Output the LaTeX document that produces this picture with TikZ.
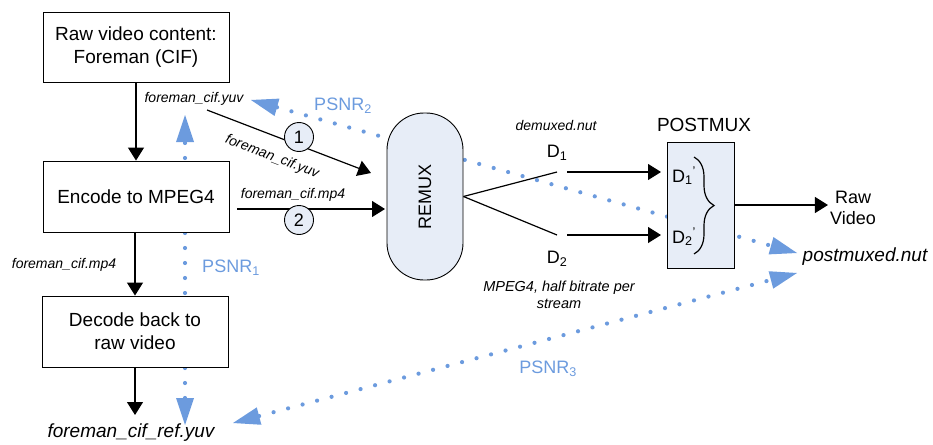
\documentclass[tikz,border=0pt]{standalone}
\usepackage{fontspec}
\setmainfont{Liberation Sans}
\usetikzlibrary{arrows.meta,decorations.pathreplacing,calc}
\definecolor{psnr}{RGB}{108,155,222}
\definecolor{lightfill}{RGB}{231,237,247}
\begin{document}
\begin{tikzpicture}[x=1pt,y=-1pt,
 box/.style={draw, fill=white, line width=0.9pt, align=center, inner sep=0pt, font=\fontsize{19}{23}\selectfont},
 lab/.style={font=\fontsize{14}{17}\selectfont\itshape, inner sep=0pt, align=center},
 arr/.style={line width=1.2pt, -{Triangle[length=13pt,width=16pt]}},
 ln/.style={line width=1.2pt},
 dots/.style={draw=psnr, line width=4.2pt, line cap=round, dash pattern=on 0pt off 15pt,
   {Triangle[length=27pt,width=18pt,line width=0pt]}-{Triangle[length=27pt,width=18pt,line width=0pt]}},
 psnrlab/.style={text=psnr, font=\fontsize{18}{21}\selectfont, inner sep=0pt},
 circ/.style={circle, draw, fill=lightfill, line width=0.9pt, minimum size=29pt, inner sep=0pt, font=\fontsize{18}{20}\selectfont},
 txt/.style={font=\fontsize{18}{21}\selectfont, inner sep=0pt, align=center}
]
\useasboundingbox (0,0) rectangle (933,444);

% PSNR dotted connectors (behind boxes)
\coordinate (p1a) at (185,425);
\coordinate (p1b) at (185,115);
\coordinate (p2a) at (251,100);
\coordinate (p2b) at (797,253);
\coordinate (p3a) at (233,423);
\coordinate (p3b) at (797,273);
\draw[dots] (p1a) -- (p1b);
\draw[dots] (p2a) -- (p2b);
\draw[dots] (p3a) -- (p3b);

% boxes
\node[box, minimum width=186pt, minimum height=70pt] (raw) at (136,47) {Raw video content:\\Foreman (CIF)};
\node[box, minimum width=186pt, minimum height=71pt] (enc) at (136,196.5) {Encode to MPEG4};
\node[box, minimum width=186pt, minimum height=71pt] (dec) at (135,331.5) {Decode back to\\raw video};

\node[draw, fill=lightfill, line width=0.9pt, rounded corners=37pt, minimum width=76pt, minimum height=167pt, inner sep=0pt,
  font=\fontsize{18}{21}\selectfont] (remux) at (425,196.5) {\rotatebox{90}{REMUX}};

\node[draw, fill=lightfill, line width=0.9pt, minimum width=67pt, minimum height=126pt, inner sep=0pt] (post) at (700.5,205) {};
\node[font=\fontsize{19}{22}\selectfont, inner sep=0pt] (postlab) at (704,125) {POSTMUX};

% labels
\node[lab] (yuvlab) at (194,99) {foreman\_cif.yuv};
\node[lab] (mp4lab) at (64,265) {foreman\_cif.mp4};
\node[lab, rotate=-21] (yuvlab2) at (272,157) {foreman\_cif.yuv};
\node[lab] (mp4lab2) at (293,195) {foreman\_cif.mp4};
\node[font=\fontsize{19}{22}\selectfont\itshape, inner sep=0pt] (refyuv) at (131,433) {foreman\_cif\_ref.yuv};
\node[lab] (demux) at (556,125) {demuxed.nut};
\node[txt] (d1) at (557,153) {D\textsubscript{1}};
\node[txt] (d2) at (557,259) {D\textsubscript{2}};
\node[lab, font=\fontsize{14.5}{17}\selectfont\itshape] (mpeglab) at (559,295) {MPEG4, half bitrate per\\stream};
\node[txt] (d1p) at (684,176) {D\textsubscript{1}\textsuperscript{'}};
\node[txt] (d2p) at (684,237) {D\textsubscript{2}\textsuperscript{'}};
\node[txt, inner sep=2pt] (rawv) at (853,208) {Raw\\Video};
\node[font=\fontsize{19}{22}\selectfont\itshape, inner sep=0pt] (pmux) at (865,257) {postmuxed.nut};

\node[psnrlab] (ps1) at (231,268) {PSNR\textsubscript{1}};
\node[psnrlab] (ps2) at (343,106) {PSNR\textsubscript{2}};
\node[psnrlab] (ps3) at (548,369) {PSNR\textsubscript{3}};

% main connectors
\draw[arr] (raw) -- (enc);
\draw[arr] (enc.south -| dec) -- (dec.north);
\coordinate (dtip) at (135,415);
\draw[arr] (dec.south) -- (dtip);

\coordinate (a1s) at (207,110);
\coordinate (a1e) at (371,173);
\draw[arr] (a1s) -- (a1e);
\coordinate (a2s) at (237,209);
\coordinate (a2e) at (385,209);
\draw[arr] (a2s) -- (a2e);
\node[circ] (c1) at (299,137) {1};
\node[circ] (c2) at (299,220) {2};

\coordinate (d1a) at (557,172);
\coordinate (d2a) at (557,235);
\draw[ln] (remux.east) -- (d1a);
\draw[ln] (remux.east) -- (d2a);
\coordinate (d1b) at (567,172);
\coordinate (d1c) at (661,172);
\coordinate (d2b) at (567,235);
\coordinate (d2c) at (661,235);
\draw[arr] (d1b) -- (d1c);
\draw[arr] (d2b) -- (d2c);

\coordinate (bra) at (694,157);
\coordinate (brb) at (694,254);
\draw[ln, decorate, decoration={brace, amplitude=20pt}] (bra) -- (brb);

\draw[arr] (post.east) -- (post.east -| rawv.west);
\end{tikzpicture}
\end{document}
